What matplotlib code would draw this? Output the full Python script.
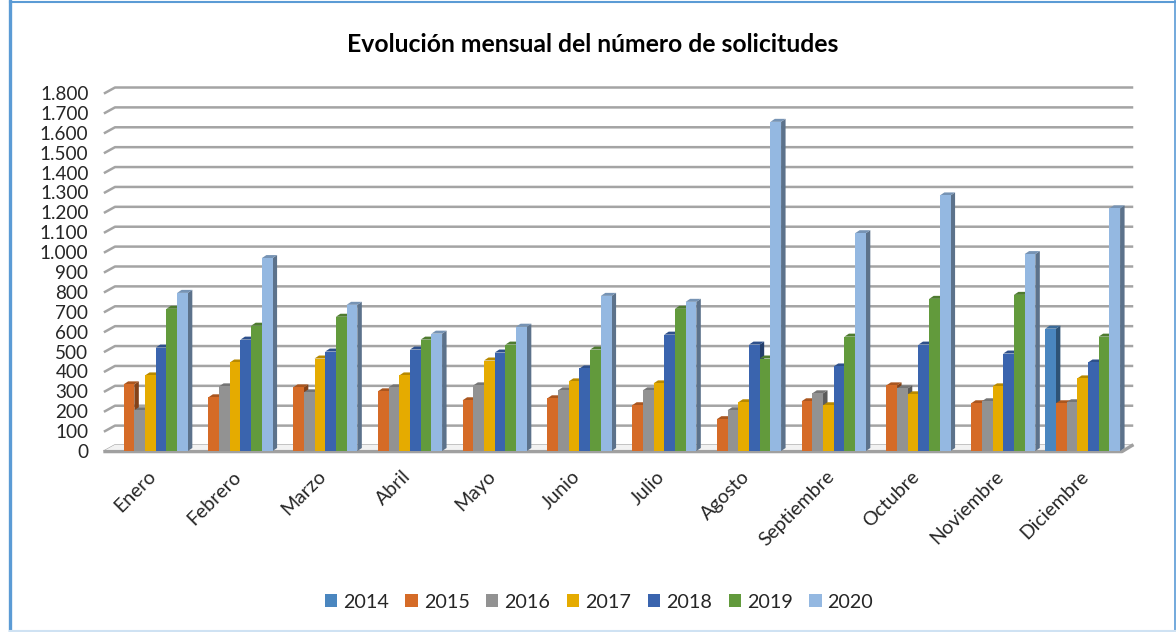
import matplotlib
matplotlib.use('Agg')
import matplotlib.pyplot as plt
from matplotlib.colors import to_rgb
from matplotlib.patches import Patch

plt.rcParams['font.family'] = ['Lato', 'DejaVu Sans']

# Data
meses = ['Enero', 'Febrero', 'Marzo', 'Abril', 'Mayo', 'Junio', 'Julio',
         'Agosto', 'Septiembre', 'Octubre', 'Noviembre', 'Diciembre']
y2014 = [0, 0, 0, 0, 0, 0, 0, 0, 0, 0, 0, 615]
y2015 = [335, 270, 320, 300, 255, 265, 230, 160, 250, 330, 240, 240]
y2016 = [205, 325, 295, 320, 330, 305, 305, 205, 290, 315, 250, 245]
y2017 = [380, 445, 465, 380, 455, 350, 340, 245, 230, 285, 325, 365]
y2018 = [520, 560, 500, 510, 495, 415, 585, 535, 425, 535, 490, 445]
y2019 = [715, 630, 675, 560, 535, 510, 715, 465, 575, 765, 785, 575]
y2020 = [795, 970, 735, 590, 625, 780, 750, 1655, 1095, 1285, 990, 1220]

series = [y2014, y2015, y2016, y2017, y2018, y2019, y2020]
years = ['2014', '2015', '2016', '2017', '2018', '2019', '2020']
colors = ['#4a86bf', '#d56b27', '#929292', '#e5ab00', '#3a64ae', '#629a3c', '#94b8e1']
y_ticks = list(range(0, 1900, 100))

W, H = 1176, 632
fig = plt.figure(figsize=(W / 100, H / 100), dpi=100, facecolor='white')

# front plane of the fake 3D box, in pixels
left, right, top, bottom = 105, 1122, 93, 451
ax = fig.add_axes([left / W, 1 - bottom / H, (right - left) / W, (bottom - top) / H])
ax.set_xlim(-0.5, 11.5)
ax.set_ylim(0, 1800)
ax.patch.set_alpha(0)
for s in ax.spines.values():
    s.set_visible(False)

px_x = 12 / (right - left)
px_y = 1800 / (bottom - top)


def darker(c, f):
    return tuple(v * f for v in to_rgb(c))


# back wall grid and slanted left ends
grid_col = '#a4a4a4'
wall_x, wall_y = 10 * px_x, 5.5 * px_y
for v in y_ticks:
    ax.plot([-0.5, -0.5 + wall_x, 11.5 + wall_x], [v, v + wall_y, v + wall_y],
            color=grid_col, lw=1.8, clip_on=False, zorder=1)

# floor
ax.fill([-0.5, 11.5, 11.5 + wall_x, -0.5 + wall_x], [0, 0, wall_y, wall_y],
        color='#f2f2f2', clip_on=False, zorder=1.5)
ax.plot([-0.5, 11.5, 11.5 + wall_x], [-3, -3, wall_y], color='#a0a0a0', lw=2.4,
        clip_on=False, zorder=1.6)

# bars
bar_w = 10.7 / (right - left) * 12
d_x, d_y = 4.5 * px_x, 3 * px_y
shift = 3 * px_x
n = len(series)
for k, (vals, col) in enumerate(zip(series, colors)):
    for i, v in enumerate(vals):
        if v == 0:
            continue
        x0 = i + shift + (k - n / 2) * bar_w
        z = 3 + i * 10 + k * 0.1
        ax.bar(x0, v, width=bar_w, align='edge', color=col, zorder=z, clip_on=False)
        ax.fill([x0 + bar_w, x0 + bar_w + d_x, x0 + bar_w + d_x, x0 + bar_w],
                [0, d_y, v + d_y, v], color=darker(col, 0.62), zorder=z - 0.05,
                clip_on=False, lw=0)
        ax.fill([x0, x0 + d_x, x0 + bar_w + d_x, x0 + bar_w],
                [v, v + d_y, v + d_y, v], color=darker(col, 0.8), zorder=z - 0.04,
                clip_on=False, lw=0)

# axis labels
ax.set_yticks(y_ticks)
ax.set_yticklabels([f'{v:,}'.replace(',', '.') for v in y_ticks], fontsize=13.6, color='#262626',
                   va='center_baseline')
ax.set_xticks(range(12))
ax.set_xticklabels(meses, rotation=45, ha='right', rotation_mode='anchor',
                   fontsize=14, color='#262626')
ax.tick_params(axis='y', length=0, pad=12)
ax.tick_params(axis='x', length=0, pad=12)

fig.text(592.5 / W, 1 - 44 / H, 'Evolución mensual del número de solicitudes',
         ha='center', va='center', fontsize=17.8, fontweight='bold', color='black')

handles = [Patch(facecolor=c, label=y) for c, y in zip(colors, years)]
fig.legend(handles=handles, loc='center', bbox_to_anchor=(599 / W, 1 - 602 / H), ncol=7,
           frameon=False, fontsize=14.2, handlelength=0.62, handleheight=0.66,
           handletextpad=0.3, columnspacing=0.85, labelcolor='#262626')

# chart frame
frame = '#5b9bd5'
fig.add_artist(plt.Line2D([10 / W, 10 / W], [0, 1], color=frame, lw=2.4))
fig.add_artist(plt.Line2D([10 / W, 1], [1 - 1.5 / H, 1 - 1.5 / H], color=frame, lw=1.5))
fig.add_artist(plt.Line2D([1174.5 / W, 1174.5 / W], [0, 1], color=frame, lw=1.2))
fig.add_artist(plt.Line2D([10 / W, 1], [1 / H, 1 / H], color='#cfe2f3', lw=1.5))

plt.savefig('out.png', dpi=100)
